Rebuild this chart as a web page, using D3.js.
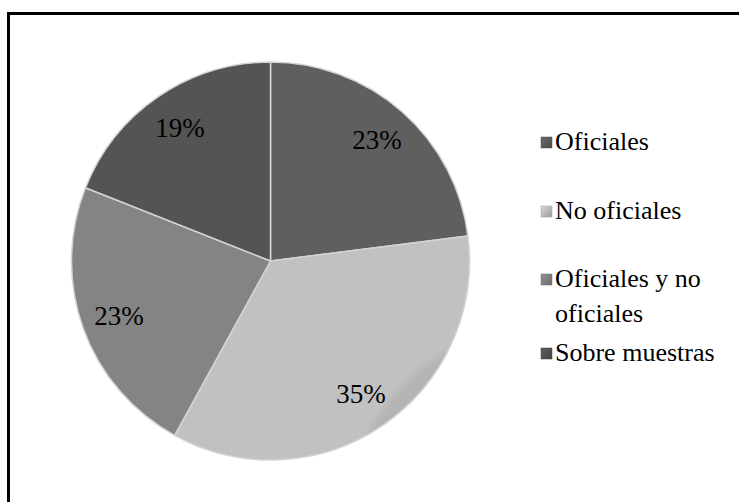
<!DOCTYPE html>
<html>
<head>
<meta charset="utf-8">
<script src="https://cdn.jsdelivr.net/npm/d3@7"></script>
</head>
<body style="margin:0; background:#fff">
<div id="chart"></div>
<script>
// data
var categories = ["Oficiales", "No oficiales", "Oficiales y no oficiales", "Sobre muestras"];
var values = [23, 35, 23, 19];
var labels = ["23%", "35%", "23%", "19%"];
var legendLines = [["Oficiales"], ["No oficiales"], ["Oficiales y no", "oficiales"], ["Sobre muestras"]];
var colors = ["#585858", "#b4b4b4", "#7b7b7b", "#4e4e4e"];

var svgWidth = 739;
var svgHeight = 502;
var cx = 270.5, cy = 261, radius = 199;

var svg = d3.select("#chart")
  .append("svg")
  .attr("width", svgWidth)
  .attr("height", svgHeight)
  .attr("font-family", "Times New Roman")
  .style("display", "block");

// frame (only top and left show in the crop)
svg.append("path")
  .attr("d", "M8.5,502 L8.5,13.5 L739,13.5")
  .attr("fill", "none")
  .attr("stroke", "#000")
  .attr("stroke-width", 3);

var defs = svg.append("defs");
colors.forEach(function(c, i) {
  var g = defs.append("radialGradient")
    .attr("id", "grad" + i)
    .attr("gradientUnits", "userSpaceOnUse")
    .attr("cx", cx).attr("cy", cy).attr("r", radius);
  g.append("stop").attr("offset", "0%").attr("stop-color", c);
  g.append("stop").attr("offset", "95%").attr("stop-color", c);
  g.append("stop").attr("offset", "100%").attr("stop-color", d3.color(c).brighter(0.2));

  var lg = defs.append("linearGradient")
    .attr("id", "lgrad" + i)
    .attr("x1", 0).attr("y1", 0).attr("x2", 1).attr("y2", 1);
  lg.append("stop").attr("offset", "0%").attr("stop-color", d3.color(c).brighter(0.5));
  lg.append("stop").attr("offset", "100%").attr("stop-color", d3.color(c).darker(0.4));
});

var pie = d3.pie().sort(null).value(function(d) { return d; });
var arcs = pie(values);

var arc = d3.arc().innerRadius(0).outerRadius(radius);
var labelArc = d3.arc().innerRadius(161).outerRadius(161);

var pieGroup = svg.append("g")
  .attr("transform", "translate(" + cx + "," + cy + ")");

pieGroup.selectAll("path.slice")
  .data(arcs)
  .enter()
  .append("path")
  .attr("class", "slice")
  .attr("d", arc)
  .attr("fill", function(d, i) { return "url(#grad" + i + ")"; })
  .attr("stroke", "#d4d4d4")
  .attr("stroke-width", 1.5)
  .attr("stroke-linejoin", "round");

svg.selectAll("text.pct")
  .data(arcs)
  .enter()
  .append("text")
  .attr("class", "pct")
  .attr("text-anchor", "middle")
  .attr("x", function(d) { return cx + labelArc.centroid(d)[0]; })
  .attr("y", function(d) { return cy + labelArc.centroid(d)[1] + 9; })
  .attr("font-size", 27)
  .style("font-family", function() { return "\"Liberation Serif\""; })
  .text(function(d, i) { return labels[i]; });

// legend
var legendX = 541;
var legendTops = [150, 219, 287, 361];
var lineGap = 35;

categories.forEach(function(d, i) {
  svg.append("rect")
    .attr("x", legendX)
    .attr("y", legendTops[i] - 13)
    .attr("width", 11)
    .attr("height", 11)
    .attr("fill", "url(#lgrad" + i + ")")
    .attr("stroke", d3.color(colors[i]).darker(0.3))
    .attr("stroke-width", 0.5);

  legendLines[i].forEach(function(line, j) {
    svg.append("text")
      .attr("x", legendX + 14)
      .attr("y", legendTops[i] + j * lineGap)
      .attr("font-size", 26)
      .style("font-family", function() { return "\"Liberation Serif\""; })
      .text(line);
  });
});
</script>
</body>
</html>
